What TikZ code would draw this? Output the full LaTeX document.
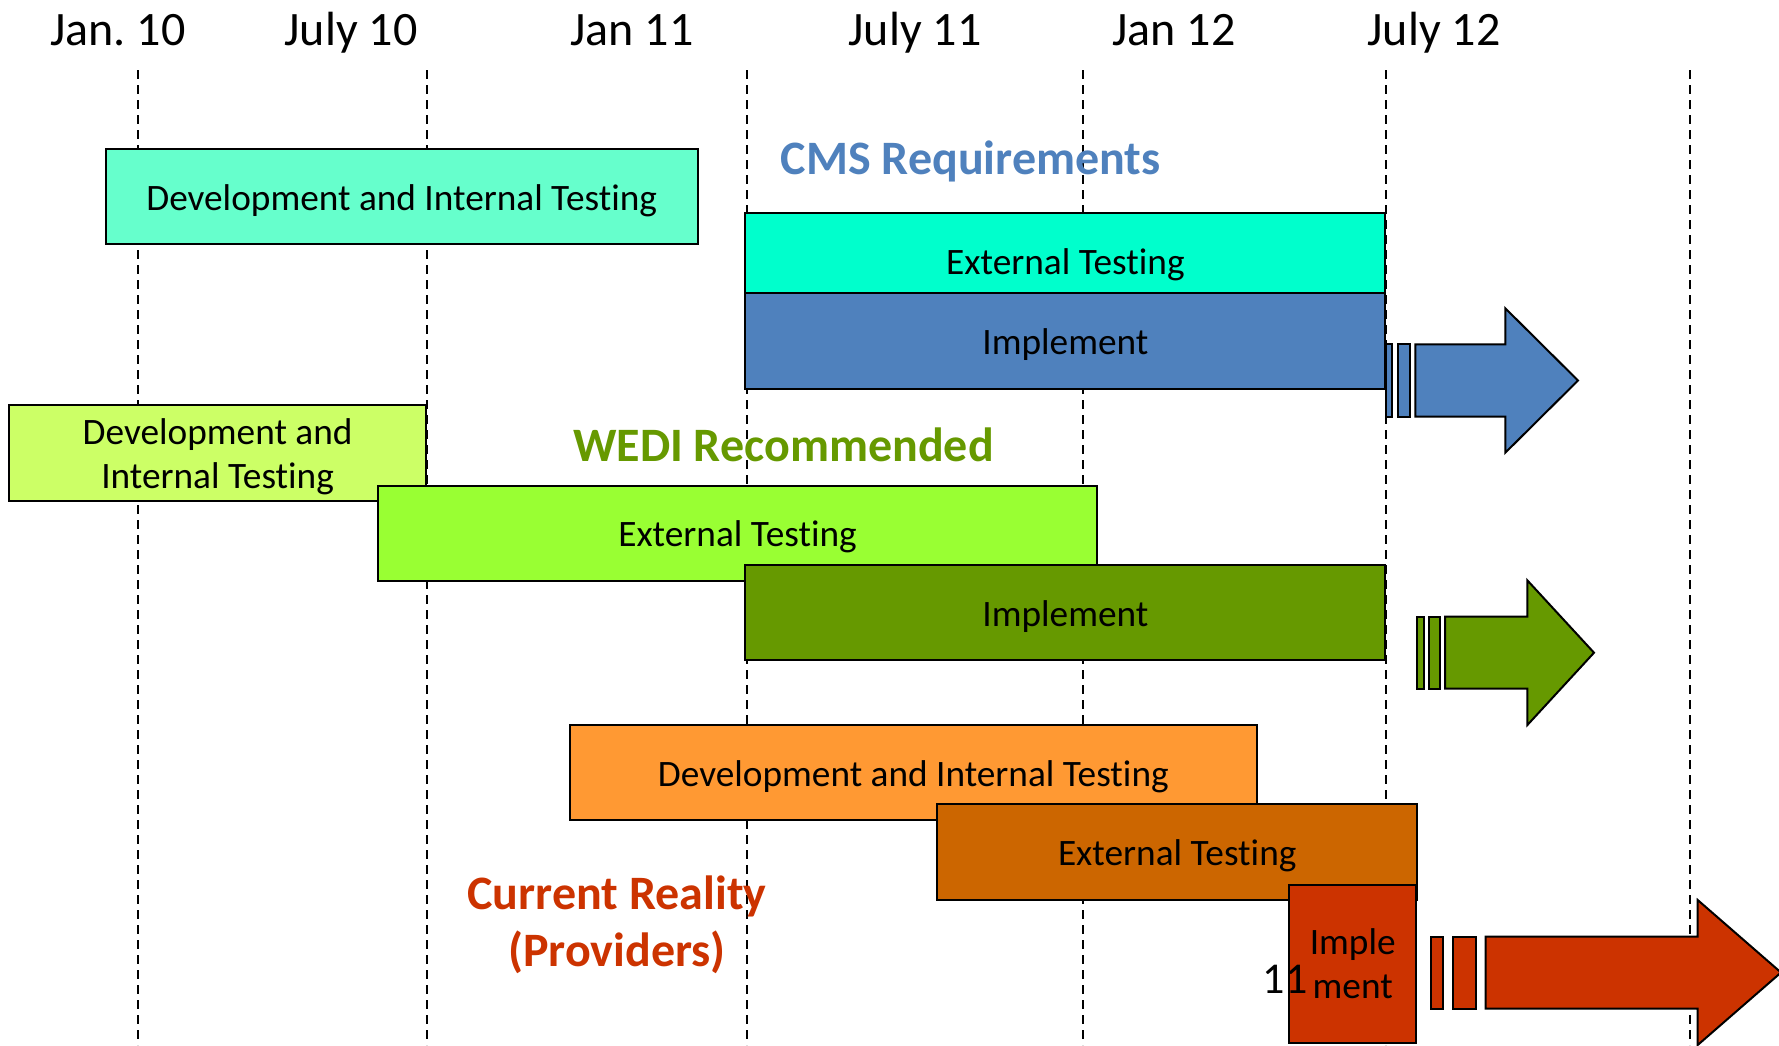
\documentclass[tikz,border=0pt]{standalone}
\usepackage{fontspec}
\usetikzlibrary{calc}
\setmainfont{Carlito}[Ligatures=CommonOff]
\frenchspacing
\definecolor{devA}{HTML}{66FFCC}
\definecolor{extA}{HTML}{00FFCC}
\definecolor{impA}{HTML}{4F81BD}
\definecolor{devB}{HTML}{CCFF66}
\definecolor{extB}{HTML}{99FF33}
\definecolor{impB}{HTML}{669900}
\definecolor{devC}{HTML}{FF9933}
\definecolor{extC}{HTML}{CC6600}
\definecolor{impC}{HTML}{CC3300}
\tikzset{
  phasebox/.style={draw=black, line width=2pt, inner sep=0pt, outer sep=0pt, align=center,
    font=\fontsize{37.3}{44}\selectfont},
  phase/.style={phasebox, text height=30pt, text depth=3.2pt},
  phasetext/.style={inner sep=0pt, align=center, font=\fontsize{37.3}{44}\selectfont},
  datelbl/.style={anchor=base, inner sep=0pt, font=\fontsize{48}{56}\selectfont},
  heading/.style={inner sep=0pt, align=center, font=\fontsize{48}{57}\selectfont\bfseries},
  grid/.style={dashed, dash pattern=on 9pt off 6pt, line width=1.8pt},
  blockarrow/.style={draw=black, line width=2pt, line join=miter},
}
\begin{document}
\begin{tikzpicture}[x=1pt,y=-1pt]
\useasboundingbox (0,0) rectangle (1779,1045);
\fill[white] (0,0) rectangle (1779,1045);
% date labels
\node[datelbl] (l1) at (118,45) {Jan. 10};
\node[datelbl] (l2) at (351,45) {July 10};
\node[datelbl] (l3) at (632,45) {Jan 11};
\node[datelbl] (l4) at (915,45) {July 11};
\node[datelbl] (l5) at (1174,45) {Jan 12};
\node[datelbl] (l6) at (1434,45) {July 12};
% dashed guides
\foreach \n/\x in {g1/138,g2/427,g3/747,g4/1083,g5/1386,g6/1690} {
  \coordinate (\n t) at (\x,70);
  \coordinate (\n b) at (\x,1045);
  \draw[grid] (\n t) -- (\n b);
}
% CMS
\node[phase, fill=devA, minimum width=592pt, minimum height=95.4pt] (devA) at (401.7,196.6) {Development and Internal Testing};
\node[heading, text=impA] (hA) at (970.7,161.1) {CMS Requirements};
\node[phase, fill=extA, minimum width=640pt, minimum height=95.4pt] (extA) at (1065.4,261) {External Testing};
\node[phase, fill=impA, minimum width=640pt, minimum height=96.5pt] (impA) at (1065.4,341) {Implement};
\draw[blockarrow, fill=impA] (1386,344.3) rectangle (1392.3,416.7);
\draw[blockarrow, fill=impA] (1397.7,344.3) rectangle (1410.3,416.7);
\draw[blockarrow, fill=impA] (1415.3,344.3) -- (1505.3,344.3) -- (1505.3,308.3) -- (1578,380.5) -- (1505.3,452.7) -- (1505.3,416.7) -- (1415.3,416.7) -- cycle;
% WEDI
\node[phasebox, fill=devB, minimum width=416.5pt, minimum height=95.4pt] (devB) at (217.6,452.9) {};
\node[phasetext] (devBt) at ($(devB.center)+(0,4)$) {Development and\\Internal Testing};
\node[heading, text=impB] (hB) at (783.5,444.8) {WEDI Recommended};
\node[phase, fill=extB, minimum width=719.4pt, minimum height=95.4pt] (extB) at (737.5,533.2) {External Testing};
\node[phase, fill=impB, minimum width=640pt, minimum height=95.4pt] (impB) at (1065.4,612.7) {Implement};
\draw[blockarrow, fill=impB] (1417.3,616.7) rectangle (1423.7,688.7);
\draw[blockarrow, fill=impB] (1428.7,616.7) rectangle (1440.3,688.7);
\draw[blockarrow, fill=impB] (1445,616.7) -- (1527.3,616.7) -- (1527.3,580.3) -- (1594,652.7) -- (1527.3,725.1) -- (1527.3,688.7) -- (1445,688.7) -- cycle;
% Current reality
\node[phase, fill=devC, minimum width=687.5pt, minimum height=95.4pt] (devC) at (913.3,772.7) {Development and Internal Testing};
\node[phase, fill=extC, minimum width=479.9pt, minimum height=95.4pt] (extC) at (1177.2,852) {External Testing};
\node[heading, text=impC] (hC) at (617,924.5) {Current Reality\\(Providers)};
\node[phasebox, fill=impC, minimum width=126.8pt, minimum height=158.3pt] (impC) at (1352.7,963.8) {Imple\\ment};
\node[inner sep=0pt, anchor=base, font=\fontsize{44}{50}\selectfont] (n11) at (1285,993) {11};
\draw[blockarrow, fill=impC] (1431,936.7) rectangle (1443,1008.5);
\draw[blockarrow, fill=impC] (1453,936.7) rectangle (1475.7,1008.5);
\draw[blockarrow, fill=impC] (1485.7,936.7) -- (1697.7,936.7) -- (1697.7,900) -- (1781,972.5) -- (1697.7,1045) -- (1697.7,1008.5) -- (1485.7,1008.5) -- cycle;
\end{tikzpicture}
\end{document}
